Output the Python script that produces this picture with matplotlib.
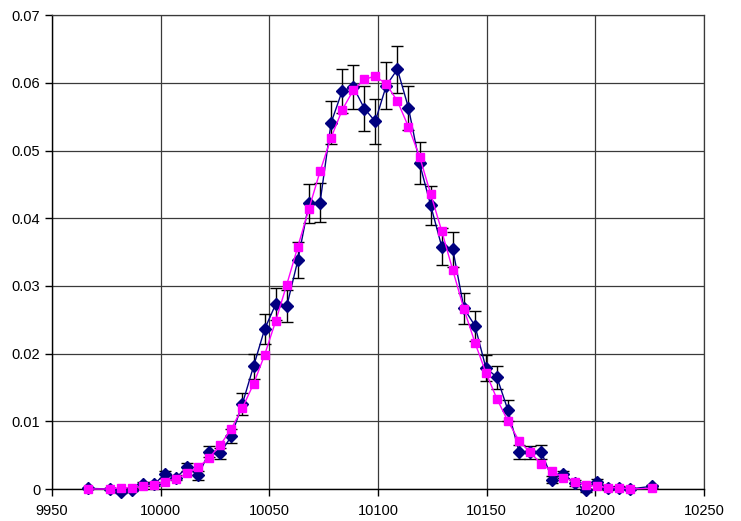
import matplotlib
matplotlib.use("Agg")
import matplotlib.pyplot as plt
from matplotlib.ticker import MultipleLocator, FormatStrFormatter

plt.rcParams['font.family'] = ['Liberation Sans', 'DejaVu Sans']

x = [9966.4, 9976.6, 9981.7, 9986.8, 9991.9, 9996.9, 10002.0, 10007.1, 10012.2,
     10017.3, 10022.3, 10027.4, 10032.5, 10037.6, 10042.7, 10047.8, 10052.9,
     10058.0, 10063.1, 10068.2, 10073.3, 10078.4, 10083.5, 10088.6, 10093.7,
     10098.7, 10103.8, 10108.9, 10114.0, 10119.1, 10124.2, 10129.3, 10134.4,
     10139.5, 10144.6, 10149.6, 10154.7, 10159.8, 10164.9, 10170.0, 10175.1,
     10180.2, 10185.3, 10190.4, 10195.5, 10200.5, 10205.6, 10210.7, 10215.8,
     10226.0]

measured = [0.0001, 0.0000, -0.0004, -0.0001, 0.0007, 0.0007, 0.0022, 0.0017, 0.0032,
            0.0020, 0.0055, 0.0053, 0.0078, 0.0126, 0.0181, 0.0236, 0.0273,
            0.0270, 0.0338, 0.0422, 0.0423, 0.0541, 0.0588, 0.0594, 0.0562,
            0.0543, 0.0596, 0.0620, 0.0563, 0.0481, 0.0419, 0.0358, 0.0354,
            0.0267, 0.0241, 0.0179, 0.0165, 0.0116, 0.0055, 0.0054, 0.0055,
            0.0014, 0.0022, 0.0009, -0.0002, 0.0011, 0.0001, 0.0002, 0.0000,
            0.0004]

errors = [0.0001, 0.0001, 0.0002, 0.0002, 0.0003, 0.0003, 0.0005, 0.0004, 0.0006,
          0.0006, 0.0008, 0.0008, 0.0010, 0.0016, 0.0018, 0.0022, 0.0024,
          0.0024, 0.0027, 0.0029, 0.0029, 0.0032, 0.0033, 0.0033, 0.0033,
          0.0033, 0.0034, 0.0035, 0.0033, 0.0031, 0.0029, 0.0027, 0.0026,
          0.0023, 0.0022, 0.0019, 0.0017, 0.0016, 0.0010, 0.0010, 0.0010,
          0.0005, 0.0005, 0.0004, 0.0002, 0.0004, 0.0002, 0.0002, 0.0001,
          0.0002]

model = [0.0000, 0.0000, 0.0002, 0.0002, 0.0004, 0.0006, 0.0011, 0.0015, 0.0023,
         0.0032, 0.0046, 0.0065, 0.0089, 0.0120, 0.0155, 0.0198, 0.0248,
         0.0302, 0.0358, 0.0414, 0.0469, 0.0519, 0.0560, 0.0589, 0.0605,
         0.0610, 0.0598, 0.0573, 0.0535, 0.0491, 0.0436, 0.0381, 0.0323,
         0.0266, 0.0216, 0.0172, 0.0133, 0.0100, 0.0071, 0.0054, 0.0037,
         0.0026, 0.0017, 0.0011, 0.0006, 0.0004, 0.0002, 0.0002, 0.0000,
         0.0001]

fig = plt.figure(figsize=(7.41, 5.21), dpi=100)
ax = fig.add_axes([0.0702, 0.0614, 0.880, 0.9096])

eb = ax.errorbar(x, measured, yerr=errors, fmt='none', ecolor='black', elinewidth=1.0,
                 capsize=4, capthick=1.0, zorder=3)
for art in eb.get_children():
    art.set_clip_on(False)
ax.plot(x, measured, color='#000080', lw=1.0, marker='D', ms=6,
        markerfacecolor='#000080', markeredgecolor='#000080', zorder=4, clip_on=False)
ax.plot(x, model, color='#FF00FF', lw=1.0, marker='s', ms=6,
        markerfacecolor='#FF00FF', markeredgecolor='#FF00FF', zorder=5, clip_on=False)

ax.set_xlim(9950, 10250)
ax.set_ylim(0, 0.07)
ax.xaxis.set_major_locator(MultipleLocator(50))
ax.yaxis.set_major_locator(MultipleLocator(0.01))
ax.yaxis.set_major_formatter(FormatStrFormatter('%g'))
ax.xaxis.set_major_formatter(FormatStrFormatter('%d'))

ax.grid(True, color='#3a3a3a', lw=0.9, zorder=0)
ax.set_axisbelow(True)
for s in ['top', 'right']:
    ax.spines[s].set_color('#3a3a3a')
    ax.spines[s].set_linewidth(0.9)
for s in ['left', 'bottom']:
    ax.spines[s].set_color('black')
    ax.spines[s].set_linewidth(1.0)

ax.tick_params(axis='both', direction='out', length=5, width=1, labelsize=10.5,
               colors='black')
ax.tick_params(axis='x', pad=6)

fig.savefig('out.png', dpi=100)
